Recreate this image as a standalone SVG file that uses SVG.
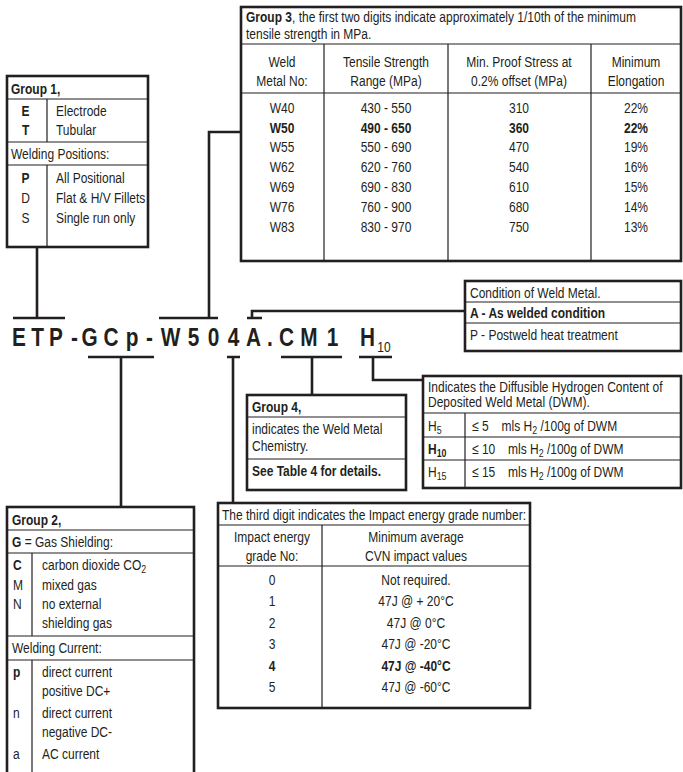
<svg xmlns="http://www.w3.org/2000/svg" width="683" height="772" viewBox="0 0 683 772">
<style>
.b{fill:none;stroke:#231f20;stroke-width:2.6}
.s{fill:none;stroke:#231f20;stroke-width:1.2}
.c{fill:none;stroke:#231f20;stroke-width:2.6}
text{font-family:'Liberation Sans',Arial,sans-serif;font-size:15px;fill:#231f20}
.bd{font-weight:bold}
.m{text-anchor:middle}
.code{font-size:26px;font-weight:bold}
.sub{font-size:11px}
</style>
<rect width="683" height="772" fill="#fff"/>
<g id="connectors">
<path class="c" d="M37 247V318M13 318H65"/>
<path class="c" d="M159 318H218M209 318V132H241"/>
<path class="c" d="M247 318H262M252 318V311H465"/>
<path class="c" d="M88 357H154M121 357V507"/>
<path class="c" d="M227 357H240M233 357V503"/>
<path class="c" d="M281 357H342M312 357V395"/>
<path class="c" d="M359 357H392M373 357V380H423"/>
</g>
<g id="code" transform="scale(0.8 1)">
<text class="code m" x="23.75 46.875 70 93.125 111.875 138.75 165 186.875 213.125 241.875 266.875 291.875 316.875 337.5 358.125 386.25 415.625 432.5 459.375" y="346">ETP-GCp-W504A.CM1 H</text>
<text class="m" x="480" y="352" font-size="13">10</text>
</g>
<g id="group1">
<rect class="b" x="7" y="76" width="141" height="171"/>
<path class="s" d="M7 99H148M7 142H148M7 165H148M47 99V142M47 165V247"/>
<g transform="scale(0.8 1)">
<text class="bd" x="13.75" y="94">Group 1,</text>
<text class="bd m" x="32" y="116">E</text><text x="70" y="116">Electrode</text>
<text class="bd m" x="32" y="135">T</text><text x="70" y="135">Tubular</text>
<text x="13.75" y="159">Welding Positions:</text>
<text class="bd m" x="32" y="183">P</text><text x="70" y="183">All Positional</text>
<text class="m" x="32" y="203">D</text><text x="70" y="203">Flat &amp; H/V Fillets</text>
<text class="m" x="32" y="223">S</text><text x="70" y="223">Single run only</text>
</g>
</g>
<g id="group3">
<rect class="b" x="241" y="7" width="440" height="254"/>
<path class="s" d="M241 44H681M241 93H681M324 44V261M448 44V261M591 44V261"/>
<g transform="scale(0.8 1)">
<text x="307.5" y="22"><tspan class="bd">Group 3</tspan>, the first two digits indicate approximately 1/10th of the minimum</text>
<text x="307.5" y="39">tensile strength in MPa.</text>
<text class="m" x="352.5" y="67">Weld</text><text class="m" x="352.5" y="86">Metal No:</text>
<text class="m" x="482.5" y="67">Tensile Strength</text><text class="m" x="482.5" y="86">Range (MPa)</text>
<text class="m" x="648.75" y="67">Min. Proof Stress at</text><text class="m" x="648.75" y="86">0.2% offset (MPa)</text>
<text class="m" x="795" y="67">Minimum</text><text class="m" x="795" y="86">Elongation</text>
<text class="m" x="352.5" y="113">W40</text><text class="m" x="482.5" y="113">430 - 550</text><text class="m" x="648.75" y="113">310</text><text class="m" x="795" y="113">22%</text>
<text class="m bd" x="352.5" y="133">W50</text><text class="m bd" x="482.5" y="133">490 - 650</text><text class="m bd" x="648.75" y="133">360</text><text class="m bd" x="795" y="133">22%</text>
<text class="m" x="352.5" y="152">W55</text><text class="m" x="482.5" y="152">550 - 690</text><text class="m" x="648.75" y="152">470</text><text class="m" x="795" y="152">19%</text>
<text class="m" x="352.5" y="172">W62</text><text class="m" x="482.5" y="172">620 - 760</text><text class="m" x="648.75" y="172">540</text><text class="m" x="795" y="172">16%</text>
<text class="m" x="352.5" y="192">W69</text><text class="m" x="482.5" y="192">690 - 830</text><text class="m" x="648.75" y="192">610</text><text class="m" x="795" y="192">15%</text>
<text class="m" x="352.5" y="212">W76</text><text class="m" x="482.5" y="212">760 - 900</text><text class="m" x="648.75" y="212">680</text><text class="m" x="795" y="212">14%</text>
<text class="m" x="352.5" y="232">W83</text><text class="m" x="482.5" y="232">830 - 970</text><text class="m" x="648.75" y="232">750</text><text class="m" x="795" y="232">13%</text>
</g>
</g>
<g id="condition">
<rect class="b" x="465" y="281" width="216" height="70"/>
<path class="s" d="M465 302H681M465 323H681"/>
<g transform="scale(0.8 1)">
<text x="587.5" y="298">Condition of Weld Metal.</text>
<text class="bd" x="587.5" y="318">A - As welded condition</text>
<text x="587.5" y="340">P - Postweld heat treatment</text>
</g>
</g>
<g id="hydrogen">
<rect class="b" x="423" y="376" width="258" height="112"/>
<path class="s" d="M423 413H681M423 437H681M423 460H681M465 413V488"/>
<g transform="scale(0.8 1)">
<text x="535" y="392">Indicates the Diffusible Hydrogen Content of</text>
<text x="535" y="407">Deposited Weld Metal (DWM).</text>
<text x="535" y="431">H<tspan class="sub" dy="3">5</tspan></text>
<text x="590" y="431">≤ 5</text><text x="627" y="431">mls H<tspan class="sub" dy="3">2</tspan><tspan dy="-3"> /100g of DWM</tspan></text>
<text class="bd" x="535" y="454">H<tspan class="sub" dy="3">10</tspan></text>
<text x="590" y="454">≤ 10</text><text x="635" y="454">mls H<tspan class="sub" dy="3">2</tspan><tspan dy="-3"> /100g of DWM</tspan></text>
<text x="535" y="477">H<tspan class="sub" dy="3">15</tspan></text>
<text x="590" y="477">≤ 15</text><text x="635" y="477">mls H<tspan class="sub" dy="3">2</tspan><tspan dy="-3"> /100g of DWM</tspan></text>
</g>
</g>
<g id="group4">
<rect class="b" x="247" y="395" width="159" height="95"/>
<path class="s" d="M247 417H406M247 459H406"/>
<g transform="scale(0.8 1)">
<text class="bd" x="315" y="412">Group 4,</text>
<text x="315" y="434">indicates the Weld Metal</text>
<text x="315" y="451">Chemistry.</text>
<text class="bd" x="315" y="476">See Table 4 for details.</text>
</g>
</g>
<g id="impact">
<rect class="b" x="218" y="503" width="312" height="205"/>
<path class="s" d="M218 525H530M218 566H530M322 525V708"/>
<g transform="scale(0.8 1)">
<text class="m" x="467.5" y="520" font-size="14.5">The third digit indicates the Impact energy grade number:</text>
<text class="m" x="340" y="542">Impact energy</text><text class="m" x="340" y="561">grade No:</text>
<text class="m" x="520" y="542">Minimum average</text><text class="m" x="520" y="561">CVN impact values</text>
<text class="m" x="340" y="585">0</text><text class="m" x="520" y="585">Not required.</text>
<text class="m" x="340" y="606">1</text><text class="m" x="520" y="606">47J @ + 20°C</text>
<text class="m" x="340" y="628">2</text><text class="m" x="520" y="628">47J @ 0°C</text>
<text class="m" x="340" y="649">3</text><text class="m" x="520" y="649">47J @ -20°C</text>
<text class="m bd" x="340" y="671">4</text><text class="m bd" x="520" y="671">47J @ -40°C</text>
<text class="m" x="340" y="692">5</text><text class="m" x="520" y="692">47J @ -60°C</text>
</g>
</g>
<g id="group2">
<rect class="b" x="7" y="507" width="187" height="275"/>
<path class="s" d="M7 530H194M7 553H194M7 636H194M7 660H194M32 553V636M32 660V772"/>
<g transform="scale(0.8 1)">
<text class="bd" x="15" y="525">Group 2,</text>
<text x="15" y="547"><tspan class="bd">G</tspan> = Gas Shielding:</text>
<text class="bd" x="16.25" y="570">C</text><text x="52.5" y="570">carbon dioxide CO<tspan class="sub" dy="3">2</tspan></text>
<text x="16.25" y="590">M</text><text x="52.5" y="590">mixed gas</text>
<text x="16.25" y="609">N</text><text x="52.5" y="609">no external</text>
<text x="52.5" y="628">shielding gas</text>
<text x="15" y="653">Welding Current:</text>
<text class="bd" x="16.25" y="677">p</text><text x="52.5" y="677">direct current</text>
<text x="52.5" y="696">positive DC+</text>
<text x="16.25" y="718">n</text><text x="52.5" y="718">direct current</text>
<text x="52.5" y="737">negative DC-</text>
<text x="16.25" y="759">a</text><text x="52.5" y="759">AC current</text>
</g>
</g>
</svg>
